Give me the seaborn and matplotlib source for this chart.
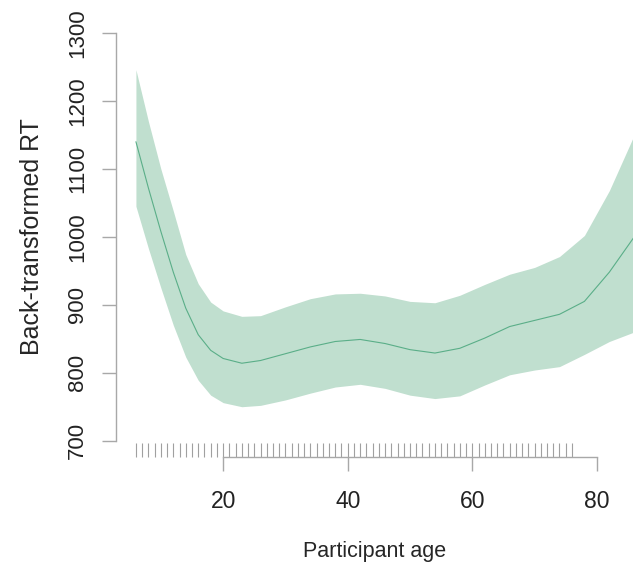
import numpy as np
import pandas as pd
import matplotlib
matplotlib.use("Agg")
import matplotlib.pyplot as plt
import seaborn as sns

# smoothed age effect
age = [6, 8, 10, 12, 14, 16, 18, 20, 23, 26, 30, 34, 38, 42, 46, 50, 54, 58, 62, 66, 70, 74, 78, 82, 86]
rt_fit = [1140, 1072, 1008, 948, 895, 856, 833, 821, 814, 818, 828, 838, 846, 849, 843, 834, 829, 836, 851, 868, 877, 886, 905, 948, 1000]
rt_upper = [1246, 1170, 1100, 1038, 974, 931, 904, 891, 883, 884, 897, 909, 916, 917, 913, 905, 903, 914, 930, 945, 955, 971, 1002, 1068, 1150]
rt_lower = [1045, 983, 925, 870, 823, 789, 767, 756, 750, 752, 760, 770, 779, 783, 777, 767, 762, 766, 782, 797, 804, 809, 827, 846, 860]

# participant ages shown as rug
rug_ages = list(range(6, 77))

y_ticks = [700, 800, 900, 1000, 1100, 1200, 1300]
x_ticks = [20, 40, 60, 80]

df = pd.DataFrame({"age": age, "fit": rt_fit, "lo": rt_lower, "hi": rt_upper})

sns.set_style("white")
plt.rcParams["font.family"] = ["Liberation Sans", "DejaVu Sans"]

fig = plt.figure(figsize=(6.33, 5.67), dpi=100)
ax = fig.add_axes([116 / 633, 1 - 457 / 567, 1 - 116 / 633, (457 - 16.7) / 567])

ax.fill_between(df["age"], df["lo"], df["hi"], color="#c0dfcf", linewidth=0)
sns.lineplot(data=df, x="age", y="fit", ax=ax, color="#5aae88", linewidth=0.8)
sns.rugplot(x=rug_ages, ax=ax, height=0.032, color="#a0a0a0", linewidth=0.8, clip_on=False)

ax.set_xlim(2.8, 85.8)
ax.set_ylim(676, 1324)

grey = "#a8a8a8"
for s in ["top", "right"]:
    ax.spines[s].set_visible(False)
ax.spines["left"].set_bounds(700, 1300)
ax.spines["bottom"].set_bounds(20, 80)
for s in ["left", "bottom"]:
    ax.spines[s].set_color(grey)
    ax.spines[s].set_linewidth(1.0)

ax.set_yticks(y_ticks)
ax.set_xticks(x_ticks)
ax.set_yticklabels([str(v) for v in y_ticks], rotation=90, va="center", fontsize=16, color="#222222")
ax.set_xticklabels([str(v) for v in x_ticks], fontsize=16.5, color="#222222")
ax.tick_params(axis="both", length=10, width=1.0, color=grey, direction="out", left=True, bottom=True)
ax.tick_params(axis="y", pad=10)
ax.tick_params(axis="x", pad=14)

ax.set_xlabel("Participant age", fontsize=15.5, labelpad=20)
ax.set_ylabel("Back-transformed RT", fontsize=18, labelpad=17)

fig.savefig("out.png", dpi=100)
